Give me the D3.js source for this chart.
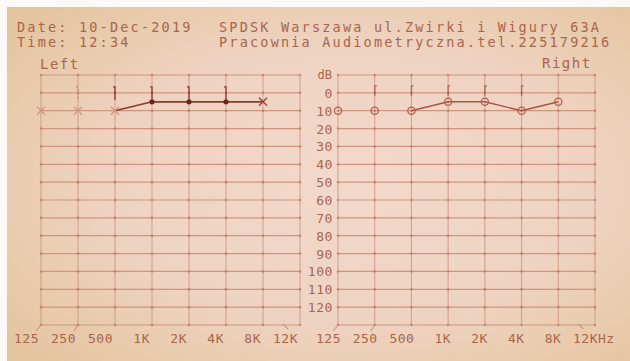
<!DOCTYPE html>
<html>
<head>
<meta charset="utf-8">
<script src="https://cdn.jsdelivr.net/npm/d3@7/dist/d3.min.js"></script>
<style>
  body { margin: 0; background: #fbfaf8; }
  svg { display: block; }
  text { font-family: 'DejaVu Sans Mono', 'Liberation Mono', monospace; fill: #a8654c; }
</style>
</head>
<body>
<div id="chart"></div>
<script>
// chart data
const freqs = ['125', '250', '500', '1K', '2K', '4K', '8K', '12K'];
const dbTicks = [0, 10, 20, 30, 40, 50, 60, 70, 80, 90, 100, 110, 120];
const gridLevels = [-10, 0, 10, 20, 30, 40, 50, 60, 70, 80, 90, 100, 110, 120, 130];

const leftAirFreqs = ['125', '250', '500', '1K', '2K', '4K', '8K'];
const leftAirDb = [10, 10, 10, 5, 5, 5, 5];
const leftBoneFreqs = ['250', '500', '1K', '2K', '4K'];
const leftBoneDb = [0, 0, 0, 0, 0];

const rightAirFreqs = ['125', '250', '500', '1K', '2K', '4K', '8K'];
const rightAirDb = [10, 10, 10, 5, 5, 10, 5];
const rightBoneFreqs = ['250', '500', '1K', '2K', '4K'];
const rightBoneDb = [0, 0, 0, 0, 0];

const headerLine1 = ['Date: 10-Dec-2019', 'SPDSK Warszawa ul.Zwirki i Wigury 63A'];
const headerLine2 = ['Time: 12:34', 'Pracownia Audiometryczna.tel.225179216'];

const width = 630, height = 361;

const svg = d3.select('#chart')
  .append('svg')
    .attr('width', width)
    .attr('height', height);

// paper background
const defs = svg.append('defs');
const grad = defs.append('radialGradient')
  .attr('id', 'paper')
  .attr('cx', '55%').attr('cy', '50%').attr('r', '70%');
grad.append('stop').attr('offset', '0%').attr('stop-color', '#f3d9cc');
grad.append('stop').attr('offset', '55%').attr('stop-color', '#efd3c2');
grad.append('stop').attr('offset', '100%').attr('stop-color', '#e5c59f');

svg.append('rect')
  .attr('x', 7).attr('y', 7)
  .attr('width', width - 7).attr('height', height - 7)
  .attr('fill', 'url(#paper)');

// vertical scale shared by both panels
const yScale = d3.scaleLinear()
  .domain([-10, 130])
  .range([75, 325]);

const gridColor = '#cf9580';
const dotColor = '#b0664c';

function drawPanel(x0, x1, opts) {
  const xScale = d3.scalePoint()
    .domain(freqs)
    .range([x0, x1])
    .padding(0);

  const g = svg.append('g');

  // grid
  g.append('g').selectAll('line.h')
    .data(gridLevels)
    .join('line')
      .attr('x1', x0).attr('x2', x1)
      .attr('y1', d => yScale(d)).attr('y2', d => yScale(d))
      .attr('stroke', gridColor)
      .attr('stroke-width', 1.2);

  g.append('g').selectAll('line.v')
    .data(freqs)
    .join('line')
      .attr('x1', d => xScale(d)).attr('x2', d => xScale(d))
      .attr('y1', yScale(-10)).attr('y2', yScale(130))
      .attr('stroke', gridColor)
      .attr('stroke-opacity', 0.8)
      .attr('stroke-width', 1.1);

  // intersection dots
  const cross = [];
  freqs.forEach(f => gridLevels.forEach(l => cross.push({ f, l })));
  g.append('g').selectAll('circle')
    .data(cross)
    .join('circle')
      .attr('cx', d => xScale(d.f))
      .attr('cy', d => yScale(d.l))
      .attr('r', 1.3)
      .attr('fill', dotColor)
      .attr('opacity', 0.55);

  // frequency labels
  g.append('g').selectAll('text')
    .data(freqs)
    .join('text')
      .attr('x', d => xScale(d) + opts.labelShift)
      .attr('y', 343)
      .attr('text-anchor', 'end')
      .attr('font-size', 13)
      .attr('letter-spacing', 0.5)
      .text(d => d);

  // small slanted marks at bottom
  const slants = [
    [xScale('125'), 325, xScale('125') - 5, 331],
    [xScale('250'), 325, xScale('250') - 4, 331],
    [xScale('8K') + 20, 324, xScale('8K') + 25, 329]
  ];
  g.append('g').selectAll('line')
    .data(slants)
    .join('line')
      .attr('x1', d => d[0]).attr('y1', d => d[1])
      .attr('x2', d => d[2]).attr('y2', d => d[3])
      .attr('stroke', gridColor)
      .attr('stroke-width', 1.1);

  return { g, xScale };
}

const left = drawPanel(41, 300, { labelShift: -2 });
const right = drawPanel(338, 595, { labelShift: 3 });

svg.append('text')
  .attr('x', right.xScale('12K') + 3)
  .attr('y', 343)
  .attr('font-size', 13)
  .attr('letter-spacing', 0.5)
  .text('Hz');

// dB axis labels (between panels)
svg.append('g').selectAll('text')
  .data(dbTicks)
  .join('text')
    .attr('x', 333)
    .attr('y', d => yScale(d) + 5)
    .attr('text-anchor', 'end')
    .attr('font-size', 13)
    .attr('letter-spacing', 0.6)
    .text(d => d);

svg.append('text')
  .attr('x', 332).attr('y', yScale(-10) + 4)
  .attr('text-anchor', 'end')
  .attr('font-size', 12)
  .text('dB');

// header
[headerLine1, headerLine2].forEach((line, i) => {
  svg.append('text')
    .attr('x', 17).attr('y', 32 + i * 15)
    .attr('font-size', 13.5)
    .attr('letter-spacing', 2.2)
    .text(line[0]);
  svg.append('text')
    .attr('x', 219).attr('y', 32 + i * 15)
    .attr('font-size', 13.5)
    .attr('letter-spacing', 2.2)
    .text(line[1]);
});

svg.append('text')
  .attr('x', 40).attr('y', 69)
  .attr('font-size', 14).attr('letter-spacing', 1.5)
  .text('Left');
svg.append('text')
  .attr('x', 542).attr('y', 68)
  .attr('font-size', 14).attr('letter-spacing', 1.5)
  .text('Right');

// ---- left ear ----
const leftAir = leftAirFreqs.map((f, i) => ({ f, db: leftAirDb[i] }));
const leftBone = leftBoneFreqs.map((f, i) => ({ f, db: leftBoneDb[i] }));
const lx = left.xScale;

const lineGen = (xs) => d3.line()
  .x(d => xs(d.f))
  .y(d => yScale(d.db));

left.g.append('path')
  .datum(leftAir.slice(2))
  .attr('d', lineGen(lx))
  .attr('fill', 'none')
  .attr('stroke', '#8f3a2b')
  .attr('stroke-width', 1.7);

// X markers
left.g.append('g').selectAll('path')
  .data(leftAir.filter(d => ['125', '250', '500', '8K'].includes(d.f)))
  .join('path')
    .attr('d', d => {
      const x = lx(d.f), y = yScale(d.db), s = 4;
      return `M${x - s},${y - s}L${x + s},${y + s}M${x - s},${y + s}L${x + s},${y - s}`;
    })
    .attr('stroke', d => d.f === '8K' ? '#9a4535' : '#cf9a80')
    .attr('stroke-width', 1.4)
    .attr('fill', 'none');

// dark dots
left.g.append('g').selectAll('circle')
  .data(leftAir.filter(d => ['1K', '2K', '4K'].includes(d.f)))
  .join('circle')
    .attr('cx', d => lx(d.f))
    .attr('cy', d => yScale(d.db))
    .attr('r', 2.6)
    .attr('fill', '#6e2418');

// bone marks
left.g.append('g').selectAll('path')
  .data(leftBone)
  .join('path')
    .attr('d', d => {
      const x = lx(d.f), y = yScale(d.db);
      return `M${x - 2},${y - 6}H${x}V${y + 7}`;
    })
    .attr('stroke', d => d.f === '250' ? '#c88a70' : '#8f3f2e')
    .attr('stroke-dasharray', d => d.f === '250' ? '2,2' : null)
    .attr('stroke-width', 1.4)
    .attr('fill', 'none');

// ---- right ear ----
const rightAir = rightAirFreqs.map((f, i) => ({ f, db: rightAirDb[i] }));
const rightBone = rightBoneFreqs.map((f, i) => ({ f, db: rightBoneDb[i] }));
const rx = right.xScale;

right.g.append('path')
  .datum(rightAir.slice(2))
  .attr('d', lineGen(rx))
  .attr('fill', 'none')
  .attr('stroke', '#a85445')
  .attr('stroke-width', 1.4);

right.g.append('g').selectAll('circle')
  .data(rightAir)
  .join('circle')
    .attr('cx', d => rx(d.f))
    .attr('cy', d => yScale(d.db))
    .attr('r', 3.6)
    .attr('fill', 'none')
    .attr('stroke', '#b45f4c')
    .attr('stroke-width', 1.3);

right.g.append('g').selectAll('path')
  .data(rightBone)
  .join('path')
    .attr('d', d => {
      const x = rx(d.f), y = yScale(d.db);
      return `M${x + 2},${y - 7}H${x}V${y + 3}`;
    })
    .attr('stroke', '#b0624e')
    .attr('stroke-width', 1.3)
    .attr('fill', 'none');
</script>
</body>
</html>
